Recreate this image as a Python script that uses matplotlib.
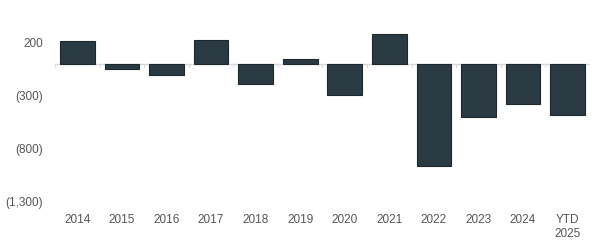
import numpy as np
import matplotlib
matplotlib.use("Agg")
import matplotlib.pyplot as plt

categories = ["2014", "2015", "2016", "2017", "2018", "2019", "2020",
              "2021", "2022", "2023", "2024", "YTD\n2025"]
values = [215, -49, -111, 219, -190, 40, -297, 281, -964, -505, -382, -489]
yticks = [200, -300, -800, -1300]

plt.rcParams['font.family'] = ['Liberation Sans', 'DejaVu Sans']

def fmt(v):
    if v < 0:
        return "({:,})".format(-v)
    return "{:,}".format(v)

fig = plt.figure(figsize=(6, 2.46), dpi=100)
ax = fig.add_axes([0.092, 0.182, 0.891, 0.775])

x = np.arange(len(categories))
ax.bar(x, values, width=0.78, color="#2a3a43", edgecolor="#1c272e", linewidth=0.8, zorder=3)

# zero line with small ticks between categories
ax.axhline(0, color="#d9d9d9", linewidth=1.0, zorder=2)
ax.vlines(np.arange(-0.5, len(categories)), -30, 0, color="#d9d9d9", linewidth=0.8, zorder=2)

ax.set_xlim(-0.5, len(categories) - 0.5)
ax.set_ylim(-1300, 500)
ax.set_yticks(yticks)
ax.set_yticklabels([fmt(v) for v in yticks])
ax.set_xticks(x)
ax.set_xticklabels(categories, linespacing=1.3, va="top")

for s in ax.spines.values():
    s.set_visible(False)
ax.tick_params(axis="both", length=0, labelsize=8.5, colors="#555555")
ax.tick_params(axis="y", pad=9)
ax.tick_params(axis="x", pad=9)

fig.savefig("out.png", dpi=100, facecolor="white")
